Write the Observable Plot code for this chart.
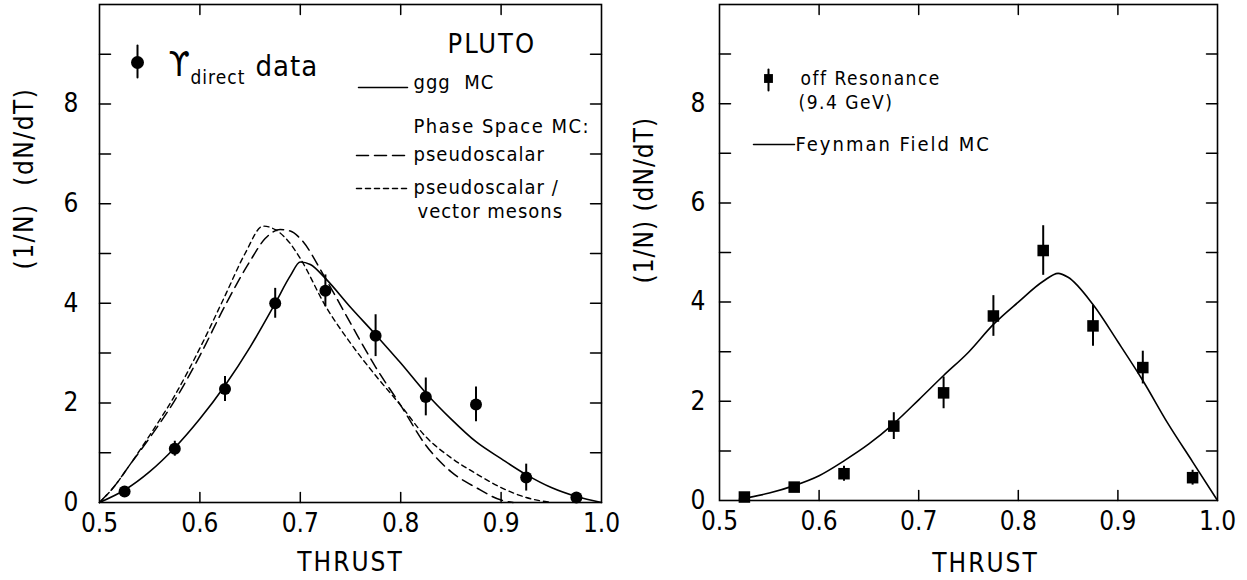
<!DOCTYPE html>
<html>
<head>
<meta charset="utf-8">
<script src="https://cdn.jsdelivr.net/npm/d3@7"></script>
<script src="https://cdn.jsdelivr.net/npm/@observablehq/plot@0.6"></script>
<style>
  html, body { margin: 0; padding: 0; background: #fff; }
  #chart { display: flex; width: 1247px; height: 580px; overflow: hidden; }
  #chart svg text { white-space: pre; }
  g[aria-description="sp1"] text { letter-spacing: 1px; }
  g[aria-description="sp15"] text { letter-spacing: 1.5px; }
  g[aria-description="sp2"] text { letter-spacing: 2px; }
  g[aria-description="sp25"] text { letter-spacing: 2.5px; }
</style>
</head>
<body>
<div id="chart"></div>
<script>
// ---------------- data ----------------
const thrustBins = [0.525, 0.575, 0.625, 0.675, 0.725, 0.775, 0.825, 0.875, 0.925, 0.975];

// left panel: Upsilon direct data
const upsilonDirect    = [0.22, 1.08, 2.28, 4.0, 4.25, 3.35, 2.12, 1.97, 0.5, 0.1];
const upsilonDirectErr = [0.1, 0.15, 0.25, 0.3, 0.32, 0.42, 0.38, 0.35, 0.27, 0.08];

// left panel: ggg MC (solid)
const gggThrust = [0.5, 0.525, 0.55, 0.575, 0.6, 0.625, 0.65, 0.675, 0.69, 0.7, 0.71, 0.725, 0.75, 0.775, 0.8, 0.825, 0.85, 0.875, 0.9, 0.925, 0.95, 0.975, 1.0];
const gggMC     = [0, 0.25, 0.62, 1.1, 1.68, 2.35, 3.12, 4.0, 4.55, 4.83, 4.78, 4.5, 3.92, 3.37, 2.8, 2.2, 1.68, 1.22, 0.88, 0.56, 0.3, 0.12, 0];

// left panel: phase space MC, pseudoscalar (long dash)
const psThrust       = [0.5, 0.515, 0.53, 0.55, 0.575, 0.6, 0.625, 0.65, 0.665, 0.68, 0.69, 0.7, 0.725, 0.75, 0.775, 0.8, 0.825, 0.85, 0.875, 0.9, 0.912];
const pseudoscalarMC = [0, 0.33, 0.75, 1.3, 2.05, 2.95, 3.95, 4.85, 5.3, 5.48, 5.45, 5.3, 4.5, 3.6, 2.72, 1.95, 1.15, 0.62, 0.3, 0.05, 0];

// left panel: phase space MC, pseudoscalar / vector mesons (short dash)
const psvThrust  = [0.5, 0.515, 0.53, 0.55, 0.575, 0.6, 0.625, 0.645, 0.663, 0.675, 0.69, 0.7, 0.725, 0.75, 0.775, 0.8, 0.825, 0.85, 0.875, 0.9, 0.925, 0.95];
const psVectorMC = [0, 0.33, 0.75, 1.35, 2.15, 3.1, 4.15, 5.0, 5.55, 5.48, 5.2, 4.9, 3.95, 3.2, 2.55, 1.95, 1.32, 0.9, 0.58, 0.3, 0.1, 0];

// right panel: off resonance data
const offResonance    = [0.07, 0.27, 0.54, 1.5, 2.17, 3.72, 5.04, 3.52, 2.68, 0.46];
const offResonanceErr = [0.05, 0.08, 0.15, 0.27, 0.32, 0.41, 0.5, 0.41, 0.33, 0.15];

// right panel: Feynman Field MC
const ffThrust       = [0.52, 0.55, 0.575, 0.6, 0.625, 0.65, 0.675, 0.7, 0.725, 0.75, 0.775, 0.8, 0.825, 0.84, 0.85, 0.875, 0.9, 0.925, 0.95, 0.975, 1.0];
const feynmanFieldMC = [0.03, 0.15, 0.3, 0.5, 0.8, 1.14, 1.55, 2.03, 2.52, 2.99, 3.55, 4.0, 4.42, 4.58, 4.5, 3.95, 3.2, 2.42, 1.56, 0.78, 0];

// axes
const xTickValues = [0.5, 0.6, 0.7, 0.8, 0.9, 1.0];
const xInnerTicks = [0.6, 0.7, 0.8, 0.9];
const yTickValues = [0, 2, 4, 6, 8];
const yInnerTicks = [1, 2, 3, 4, 5, 6, 7, 8, 9];

// ---------------- helpers ----------------
const FONT = '"DejaVu Sans Condensed", "DejaVu Sans", sans-serif';
const segment = {draw(ctx, l) { ctx.moveTo(0, 0); ctx.lineTo(0, -l); }};
const pts = (xs, ys) => xs.map((x, i) => ({x, y: ys[i]}));
const bins = (vals, errs) => thrustBins.map((x, i) => ({x, y: vals[i], lo: vals[i] - errs[i], hi: vals[i] + errs[i]}));

function frameMarks() {
  return [
    Plot.vectorX(xInnerTicks, {frameAnchor: "bottom", length: 10, rotate: 0, anchor: "start", shape: segment, strokeWidth: 1.5}),
    Plot.vectorX(xInnerTicks, {frameAnchor: "top", length: 10, rotate: 180, anchor: "start", shape: segment, strokeWidth: 1.5}),
    Plot.vectorY(yInnerTicks, {frameAnchor: "left", length: 11, rotate: 90, anchor: "start", shape: segment, strokeWidth: 1.5}),
    Plot.vectorY(yInnerTicks, {frameAnchor: "right", length: 11, rotate: -90, anchor: "start", shape: segment, strokeWidth: 1.5}),
    Plot.frame({strokeWidth: 1.6})
  ];
}
function label(str, dx, dy, fontSize, sp = "sp1", extra = {}) {
  return Plot.text([str], {text: d => d, frameAnchor: "top-left", textAnchor: "start", lineAnchor: "bottom",
    dx, dy, fontSize, ariaDescription: sp, ...extra});
}
function legendLine(dx, dy, length, dash) {
  return Plot.vector([0], {frameAnchor: "top-left", dx, dy, length, rotate: 90, anchor: "start",
    shape: segment, strokeWidth: 1.5, strokeDasharray: dash});
}
function legendBar(dx, dy, length) {
  return Plot.vector([0], {frameAnchor: "top-left", dx, dy, length, rotate: 180, anchor: "start",
    shape: segment, strokeWidth: 2});
}

function panel({width, marginLeft, marginRight, marginBottom, yPad, yTitle, yTitleDy, yTitleSp, thrustDx, thrustDy, marks}) {
  return Plot.plot({
    width, height: 580, marginTop: 4, marginLeft, marginRight, marginBottom,
    style: {fontFamily: FONT, fontSize: "26px", background: "#fff", color: "#000", overflow: "visible"},
    x: {domain: [0.5, 1]},
    y: {domain: [0, 10]},
    marks: [
      ...frameMarks(),
      Plot.axisX({ticks: xTickValues, tickSize: 0, tickPadding: 11, tickFormat: d3.format(".1f"), label: null, fontSize: 26}),
      Plot.axisY({ticks: yTickValues, tickSize: 0, tickPadding: yPad, label: null, fontSize: 26}),
      Plot.text(["THRUST"], {text: d => d, frameAnchor: "bottom", lineAnchor: "bottom", dx: thrustDx, dy: thrustDy, fontSize: 26, ariaDescription: "sp2"}),
      Plot.text([yTitle], {text: d => d, frameAnchor: "left", rotate: -90, dx: -75, dy: yTitleDy, fontSize: 26, ariaDescription: yTitleSp}),
      ...marks
    ]
  });
}

// ---------------- left panel ----------------
const leftData = bins(upsilonDirect, upsilonDirectErr);
const left = panel({
  width: 623, marginLeft: 99, marginRight: 22, marginBottom: 78, yPad: 21,
  yTitle: "(1/N)  (dN/dT)", yTitleDy: 16, yTitleSp: "sp15", thrustDx: 0, thrustDy: 68,
  marks: [
    Plot.line(pts(gggThrust, gggMC), {x: "x", y: "y", curve: "monotone-x", strokeWidth: 1.6}),
    Plot.line(pts(psThrust, pseudoscalarMC), {x: "x", y: "y", curve: "monotone-x", strokeWidth: 1.5, strokeDasharray: "11,6"}),
    Plot.line(pts(psvThrust, psVectorMC), {x: "x", y: "y", curve: "monotone-x", strokeWidth: 1.4, strokeDasharray: "5,4"}),
    Plot.ruleX(leftData, {x: "x", y1: "lo", y2: "hi", strokeWidth: 2}),
    Plot.dot(leftData, {x: "x", y: "y", r: 6, fill: "#000", stroke: null}),
    // legend
    label("PLUTO", 348, 48, 27, "sp2"),
    Plot.dot([0], {frameAnchor: "top-left", dx: 38, dy: 58, r: 6.5, fill: "#000", stroke: null}),
    legendBar(38, 41, 32),
    label("\u03D2", 69, 71, 34, "sp1"),
    label("direct", 91, 79, 19, "sp1"),
    label("data", 156, 71, 29, "sp1"),
    legendLine(259, 83, 49, null),
    label("ggg  MC", 314, 84.5, 20, "sp1"),
    label("Phase Space MC:", 314, 128, 20, "sp15"),
    legendLine(257, 151, 51, "12,6"),
    label("pseudoscalar", 314, 156, 20, "sp1"),
    legendLine(257, 184, 51, "5,4"),
    label("pseudoscalar /", 314, 189.5, 20, "sp1"),
    label("vector mesons", 318, 213.5, 20, "sp1")
  ]
});

// ---------------- right panel ----------------
const rightData = bins(offResonance, offResonanceErr);
const right = panel({
  width: 624, marginLeft: 96, marginRight: 30, marginBottom: 80, yPad: 14,
  yTitle: "(1/N) (dN/dT)", yTitleDy: 31, yTitleSp: "sp1", thrustDx: 17, thrustDy: 71,
  marks: [
    Plot.line(pts(ffThrust, feynmanFieldMC), {x: "x", y: "y", curve: "monotone-x", strokeWidth: 1.6}),
    Plot.ruleX(rightData, {x: "x", y1: "lo", y2: "hi", strokeWidth: 2}),
    Plot.dot(rightData, {x: "x", y: "y", r: 6.5, symbol: "square", fill: "#000", stroke: null}),
    // legend
    Plot.dot([0], {frameAnchor: "top-left", dx: 49, dy: 74, r: 5, symbol: "square", fill: "#000", stroke: null}),
    legendBar(49, 65, 21),
    label("off Resonance", 81, 80, 19, "sp15"),
    label("(9.4 GeV)", 79, 104, 19, "sp15"),
    legendLine(34, 140, 41, null),
    label("Feynman Field MC", 76, 146, 20, "sp2")
  ]
});

const chart = document.getElementById("chart");
chart.appendChild(left);
chart.appendChild(right);
</script>
</body>
</html>
